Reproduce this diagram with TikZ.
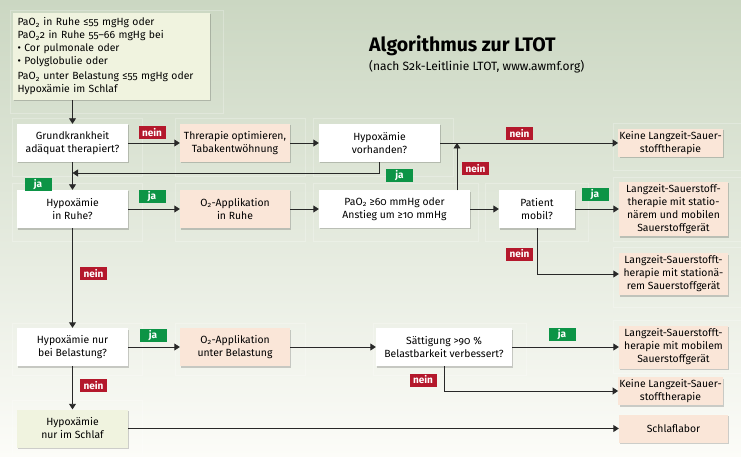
\documentclass[tikz,border=0pt]{standalone}
\usepackage{fontspec}
\setmainfont{Fira Sans}[Numbers=OldStyle]
\usetikzlibrary{arrows.meta,shadows}
\definecolor{bgtop}{RGB}{203,215,194}
\definecolor{bgbot}{RGB}{252,252,248}
\definecolor{peach}{RGB}{250,230,216}
\definecolor{startc}{RGB}{240,243,223}
\definecolor{jagreen}{RGB}{12,148,70}
\definecolor{neinred}{RGB}{180,24,44}
\definecolor{linec}{RGB}{40,40,40}
\newcommand\subtwo{\textsubscript{2}}
\begin{document}
\begin{tikzpicture}[x=1pt,y=-1pt,
  font=\fontsize{10.4}{13}\selectfont,
  box/.style={draw=none, align=center, inner sep=1pt, minimum height=38pt,
    drop shadow={shadow xshift=1.2pt,shadow yshift=-1.5pt,opacity=0.18,fill=black}},
  dec/.style={box, fill=white},
  act/.style={box, fill=peach},
  lab/.style={minimum width=27pt, minimum height=13pt, inner sep=0pt, text=white,
    font=\fontsize{10}{10}\selectfont\bfseries},
  yes/.style={lab, fill=jagreen},
  no/.style={lab, fill=neinred},
  arr/.style={draw=linec, line width=0.9pt, -{Triangle[length=5.5pt,width=7pt]}},
  cell/.style={draw=white, opacity=0.25, line width=0.6pt}
]
\useasboundingbox (0,0) rectangle (741,457);
\shade[top color=bgtop, bottom color=bgbot] (0,0) rectangle (741,457);

% faint cells
\draw[cell] (10,10) rectangle (223,113);
\foreach \a/\b in {12/142,175/305}{
  \draw[cell] (\a,118) rectangle (\b,176);
  \draw[cell] (\a,183) rectangle (\b,241);
  \draw[cell] (\a,323) rectangle (\b,375);
}
\draw[cell] (12,400) rectangle (142,455);
\draw[cell] (313,118) rectangle (453,176);
\draw[cell] (313,183) rectangle (478,241);
\draw[cell] (485,183) rectangle (588,241);
\draw[cell] (373,323) rectangle (526,375);
\draw[cell] (613,123) rectangle (741,170);
\draw[cell] (613,177) rectangle (741,241);
\draw[cell] (613,247) rectangle (741,307);
\draw[cell] (613,320) rectangle (741,373);

% title
\node[anchor=west, inner sep=0pt, font=\fontsize{19.5}{22}\selectfont\bfseries] (title) at (369,46) {Algorithmus zur LTOT};
\node[anchor=west, inner sep=0pt, font=\fontsize{12}{14}\selectfont] (subt) at (369,67) {(nach S2k-Leitlinie LTOT, www.awmf.org)};

% nodes
\node[box, fill=startc, minimum width=197pt, minimum height=87pt, text width=188pt, inner xsep=4.5pt, align=left,
  font=\fontsize{10.4}{13}\selectfont] (start) at (111.5,56.5)
 {PaO\subtwo{} in Ruhe ≤55 mgHg oder\\
  PaO\subtwo2 in Ruhe 55–66 mgHg bei\\
  • Cor pulmonale oder\\
  • Polyglobulie oder\\[2pt]
  PaO\subtwo{} unter Belastung ≤55 mgHg oder\\
  Hypoxämie im Schlaf};

\node[dec, minimum width=111pt] (g1) at (72.5,143) {Grundkrankheit\\adäquat therapiert?};
\node[act, minimum width=110pt] (ther) at (235,143) {Threrapie optimieren,\\Tabakentwöhnung};
\node[dec, minimum width=121pt] (hyp) at (379.5,143) {Hypoxämie\\vorhanden?};
\node[act, minimum width=103pt, minimum height=28pt] (keine1) at (670.5,143) {Keine Langzeit-Sauer-\\stofftherapie};

\node[dec, minimum width=111pt] (hr) at (72.5,209) {Hypoxämie\\in Ruhe?};
\node[act, minimum width=110pt] (o2r) at (235,209) {O\subtwo-Applikation\\in Ruhe};
\node[dec, minimum width=151pt, minimum height=37pt] (pao2) at (394.5,209) {PaO\subtwo{} ≥60 mmHg oder\\Anstieg um ≥10 mmHg};
\node[dec, minimum width=76pt] (mobil) at (537,209) {Patient\\mobil?};
\node[act, minimum width=109pt, minimum height=54pt] (lz1) at (673.5,209) {Langzeit-Sauerstoff-\\therapie mit statio-\\närem und mobilen\\Sauerstoffgerät};
\node[act, minimum width=109pt, minimum height=42pt] (lz2) at (673.5,274) {Langzeit-Sauerstofft-\\herapie mit stationä-\\rem Sauerstoffgerät};

\node[dec, minimum width=111pt] (hb) at (72.5,347) {Hypoxämie nur\\bei Belastung?};
\node[act, minimum width=110pt] (o2b) at (235,347) {O\subtwo-Applikation\\unter Belastung};
\node[dec, minimum width=136pt] (satt) at (444,347) {Sättigung >90 \%\\Belastbarkeit verbessert?};
\node[act, minimum width=109pt, minimum height=43pt] (lz3) at (673.5,347) {Langzeit-Sauerstofft-\\herapie mit mobilem\\Sauerstoffgerät};
\node[act, minimum width=103pt, minimum height=28pt] (keine2) at (670.5,391) {Keine Langzeit-Sauer-\\stofftherapie};

\node[box, fill=startc, minimum width=111pt] (schlaf) at (72.5,428.5) {Hypoxämie\\nur im Schlaf};
\node[act, minimum width=109pt, minimum height=28pt] (slab) at (673.5,428.5) {Schlaflabor};

% connectors
\coordinate (jn) at (72.5,173);
\coordinate (up) at (457,143);
\draw[arr] (start.south -| g1.north) -- (g1.north);
\draw[arr] (g1) -- (ther);
\draw[arr] (ther) -- (hyp);
\draw[arr] (hyp) -- (keine1);
\draw[arr] (hyp.south) |- (jn);
\draw[arr] (g1) -- (hr);
\draw[arr] (pao2.north -| up) -- (up);
\draw[arr] (hr) -- (o2r);
\draw[arr] (o2r) -- (pao2);
\draw[arr] (pao2) -- (mobil);
\draw[arr] (mobil) -- (lz1);
\draw[arr] (mobil.south) |- (lz2.west);
\draw[arr] (hr) -- (hb);
\draw[arr] (hb) -- (o2b);
\draw[arr] (o2b) -- (satt);
\draw[arr] (satt) -- (lz3);
\draw[arr] (satt.south) |- (keine2.west);
\draw[arr] (hb) -- (schlaf);
\draw[arr] (schlaf) -- (slab);

% labels
\node[no] (n1) at (152,133) {nein};
\node[yes] (y1) at (38,185) {ja};
\node[yes] (y2) at (399.5,176) {ja};
\node[no] (n2) at (519.5,133.5) {nein};
\node[no] (n3) at (475.5,169) {nein};
\node[yes] (y3) at (152,196.5) {ja};
\node[yes] (y4) at (595,194.5) {ja};
\node[no] (n4) at (519.5,254) {nein};
\node[no] (n5) at (93.5,273.5) {nein};
\node[yes] (y5) at (153,335.5) {ja};
\node[yes] (y6) at (562,334.5) {ja};
\node[no] (n6) at (423,380) {nein};
\node[no] (n7) at (93.5,385.5) {nein};
\end{tikzpicture}
\end{document}
